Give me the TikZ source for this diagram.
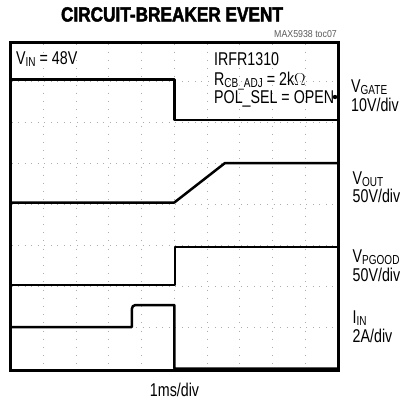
\documentclass[tikz,border=0pt]{standalone}
\usepackage{fontspec}
\setmainfont{Liberation Sans}[FakeStretch=0.77]
\newfontfamily\ttlfont{Liberation Sans}[FakeStretch=0.84,BoldFeatures={FakeBold=2.2}]
\newfontfamily\smfont{Liberation Sans}[FakeStretch=0.88]
\newcommand\sbs[1]{\raisebox{-2pt}{\fontsize{13}{13}\selectfont #1}}
\tikzset{
  lab/.style={anchor=base west, inner sep=0pt, font=\fontsize{18.5}{18.5}\selectfont},
  vgrid/.style={gray!65, line width=0.9pt, dash pattern=on 0.9pt off 7.3pt},
  hgrid/.style={gray!65, line width=0.9pt, dash pattern=on 0.9pt off 5.65pt},
  frame/.style={line width=2.7pt},
  trace/.style={line width=2.5pt, line join=round}
}
\begin{document}
\begin{tikzpicture}[x=1pt,y=-1pt]
\useasboundingbox (0,0) rectangle (403,402);
% grid
\foreach \k in {1,...,9} \draw[vgrid] (10.5+32.75*\k,43.5) -- (10.5+32.75*\k,369.5);
\foreach \k in {1,...,7} \draw[hgrid] (11.5,40+41*\k) -- (337.5,40+41*\k);
% frame
\draw[frame] (10.5,42.5) rectangle (338.5,370.5);
% traces
\draw[trace] (11.5,79.5) -- (174.3,79.5) -- (174.3,120) -- (337.5,120);
\draw[trace] (11.5,202.5) -- (174.3,202.5) -- (225,163) -- (337.5,163);
\draw[trace] (11.5,285) -- (174.8,285) -- (174.8,247) -- (337.5,247);
\draw[trace] (11.5,327) -- (131.8,327) -- (131.8,309) to[out=90,in=180] (135.5,305) -- (174.3,305) -- (174.3,368.5) -- (337.5,368.5);
\fill (335,97) circle (2.2pt);
% title
\node[anchor=base, inner sep=0pt, font=\fontsize{20.5}{20.5}\selectfont\ttlfont\bfseries] (title) at (172,21.5) {CIRCUIT-BREAKER EVENT};
\node[anchor=base east, inner sep=0pt, text=black!65, font=\fontsize{10}{10}\selectfont\smfont] (toc) at (337,37.5) {MAX5938 toc07};
% inner labels
\node[lab] (vin) at (16,64.5) {V\sbs{IN} = 48V};
\node[lab] (irfr) at (214,65.5) {IRFR1310};
\node[lab] (rcb) at (214,85) {R\sbs{CB\_ADJ} = 2k$\Omega$};
\node[lab] (pol) at (214,103.5) {POL\_SEL = OPEN};
% right labels
\node[lab] (vgate) at (351,92.5) {V\sbs{GATE}};
\node[lab] (vgdiv) at (351,111.5) {10V/div};
\node[lab] (vout) at (352.5,184.5) {V\sbs{OUT}};
\node[lab] (vodiv) at (352.5,202.5) {50V/div};
\node[lab] (vpg) at (352.5,262) {V\sbs{PGOOD}};
\node[lab] (vpdiv) at (352.5,281.5) {50V/div};
\node[lab] (iin) at (352.5,323.5) {I\sbs{IN}};
\node[lab] (iidiv) at (352.5,342) {2A/div};
\node[lab, anchor=base] (tdiv) at (174.5,396) {1ms/div};
\end{tikzpicture}
\end{document}
